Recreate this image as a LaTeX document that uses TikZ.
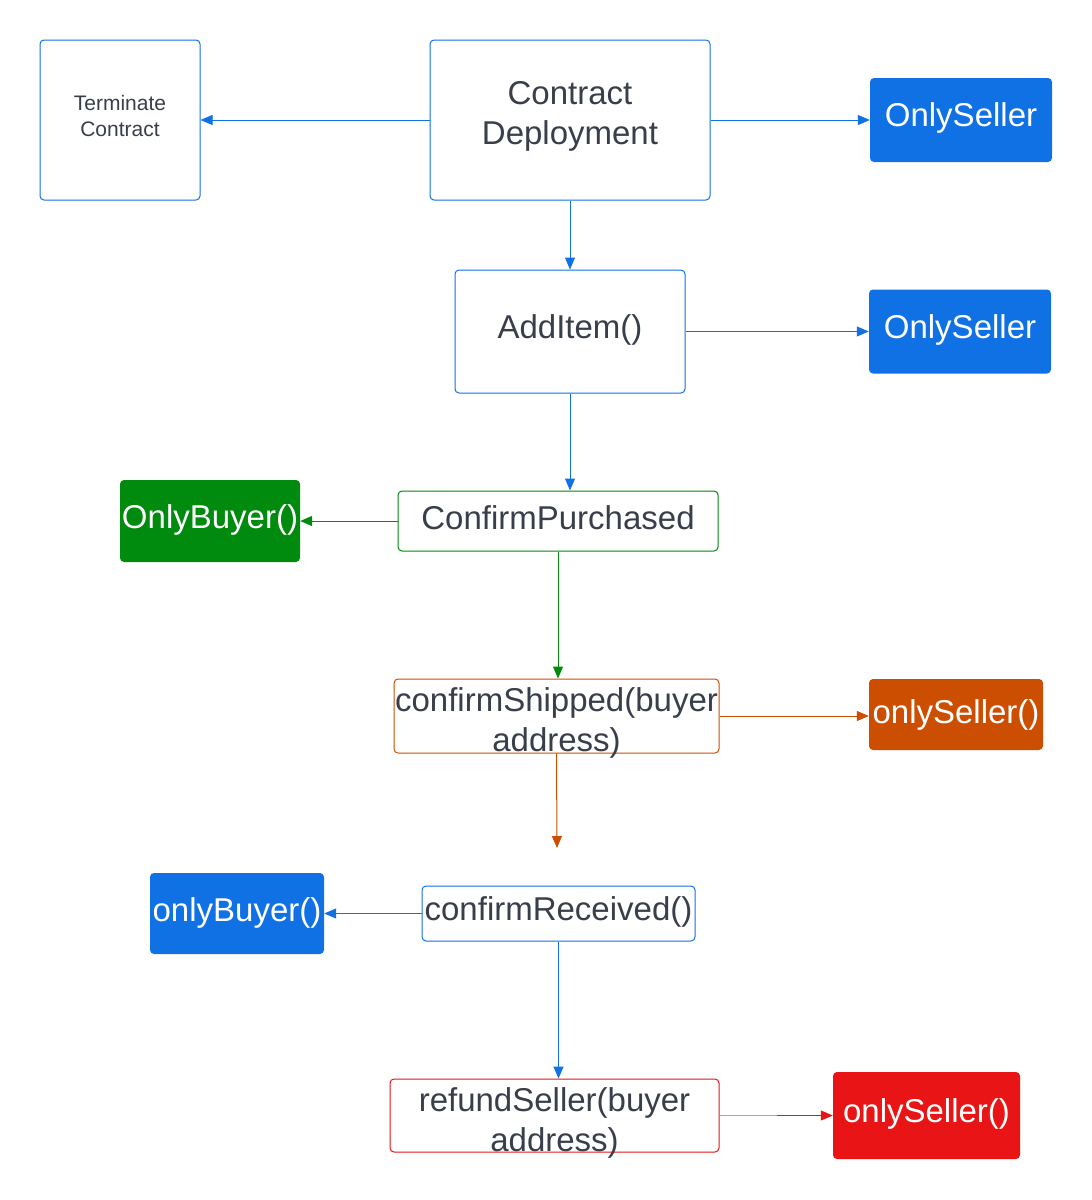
\documentclass[tikz,border=0pt]{standalone}
\usepackage{fontspec}
\setmainfont{Liberation Sans}
\usetikzlibrary{arrows.meta,calc}
\definecolor{lblue}{HTML}{1071E5}
\definecolor{lgreen}{HTML}{008A0E}
\definecolor{lorange}{HTML}{CC4E00}
\definecolor{lred}{HTML}{E81416}
\definecolor{lpink}{HTML}{F08A8B}
\definecolor{ltext}{HTML}{393F4A}
\begin{document}
\begin{tikzpicture}[x=1pt,y=-1pt,
  box/.style={draw=#1, line width=1pt, rounded corners=4pt, fill=white, inner sep=0pt,
    text=ltext, font=\fontsize{33}{40}\selectfont, align=center},
  tag/.style={fill=#1, rounded corners=4pt, inner sep=0pt, text=white,
    font=\fontsize{33}{40}\selectfont},
  lbl/.style={inner sep=0pt, text=ltext, font=\fontsize{33}{40}\selectfont, align=center},
  link/.style={draw=#1, line width=1pt, -{Triangle[length=12pt,width=10pt]}}
]
\useasboundingbox (0,0) rectangle (1092,1200);
\fill[white] (0,0) rectangle (1092,1200);

\node[box=lblue, minimum width=160pt, minimum height=160pt] (term) at (120,120) {};
\node[lbl, font=\fontsize{21}{26}\selectfont] (termT) at (120,116) {Terminate\\Contract};
\node[box=lblue, minimum width=280pt, minimum height=160pt] (deploy) at (570,120) {};
\node[lbl] (deployT) at (570,116) {Contract\\Deployment};
\node[tag=lblue, minimum width=182pt, minimum height=84pt] (os1) at (961,120) {};
\node[inner sep=0pt, text=white, font=\fontsize{33}{40}\selectfont] (os1T) at (961,118) {OnlySeller};

\node[box=lblue, minimum width=230pt, minimum height=123pt] (add) at (570,331.5) {};
\node[lbl] (addT) at (570,330) {AddItem()};
\node[tag=lblue, minimum width=182pt, minimum height=84pt] (os2) at (960,331.5) {};
\node[inner sep=0pt, text=white, font=\fontsize{33}{40}\selectfont] (os2T) at (960,329.5) {OnlySeller};

\node[tag=lgreen, minimum width=180pt, minimum height=82pt] (ob1) at (210,521) {};
\node[inner sep=0pt, text=white, font=\fontsize{33}{40}\selectfont] (ob1T) at (210,520) {OnlyBuyer()};
\node[box=lgreen, minimum width=320pt, minimum height=60pt] (purch) at (558,521) {};
\node[lbl] (purchT) at (558,518) {ConfirmPurchased};

\node[box=lorange, minimum width=325pt, minimum height=74pt] (ship) at (556.5,716) {};
\node[lbl] (shipT) at (556.5,723) {confirmShipped(buyer\\address)};
\node[tag=lorange, minimum width=174pt, minimum height=71pt] (os3) at (956,714.5) {onlySeller()};
\coordinate (shipEnd) at (557,848);

\node[tag=lblue, minimum width=174pt, minimum height=81pt] (ob2) at (237,913.5) {};
\node[inner sep=0pt, text=white, font=\fontsize{33}{40}\selectfont] (ob2T) at (237,912.5) {onlyBuyer()};
\node[box=lblue, minimum width=273pt, minimum height=55pt] (recv) at (558.5,913.5) {};
\node[lbl] (recvT) at (558.5,912) {confirmReceived()};

\node[box=lred, minimum width=329pt, minimum height=73pt] (refund) at (554.5,1115.5) {};
\node[lbl] (refundT) at (554.5,1123) {refundSeller(buyer\\address)};
\node[tag=lred, minimum width=187pt, minimum height=87pt] (os4) at (926.5,1115.5) {};
\node[inner sep=0pt, text=white, font=\fontsize{33}{40}\selectfont] (os4T) at (926.5,1114) {onlySeller()};
\coordinate (refundMid) at (777,1115.5);

\draw[link=lblue] (deploy.west) -- (term.east);
\draw[link=lblue] (deploy.east) -- (os1.west);
\draw[link=lblue] (deploy.south) -- (add.north);
\draw[link=lblue] (add.east) -- (os2.west);
\draw[link=lblue] (add.south) -- (add.south |- purch.north);
\draw[link=lgreen] (purch.west) -- (ob1.east);
\draw[link=lgreen] (purch.south) -- (purch.south |- ship.north);
\draw[link=lorange] (ship.east) -- (ship.east -| os3.west);
\draw[link=lorange] (ship.south) -- (shipEnd);
\draw[link=lblue] (recv.west) -- (ob2.east);
\draw[link=lblue] (recv.south) -- (recv.south |- refund.north);
\draw[draw=lpink, line width=1pt] (refund.east) -- (refundMid);
\draw[link=lred] (refundMid) -- (refundMid -| os4.west);
\end{tikzpicture}
\end{document}
